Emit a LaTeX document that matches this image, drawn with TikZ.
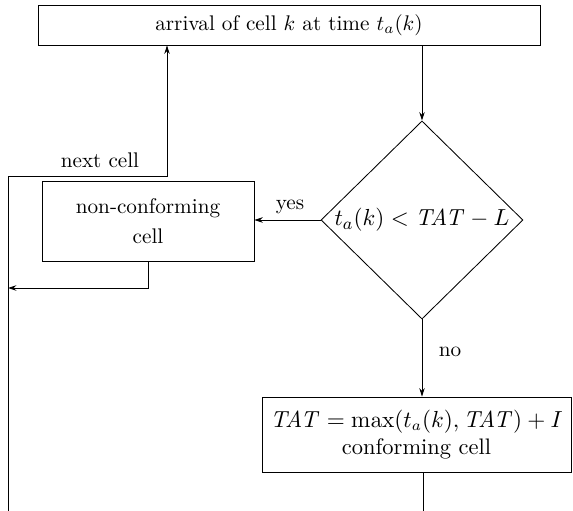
\documentclass[tikz,border=0pt]{standalone}
\usetikzlibrary{shapes.geometric,arrows.meta}
\begin{document}
\begin{tikzpicture}[x=0.472pt,y=-0.472pt, line width=0.4pt,
  box/.style={draw, rectangle, align=center, inner sep=0pt},
  dec/.style={draw, diamond, inner sep=0pt, align=center},
  conn/.style={-{Stealth[length=4pt,width=2.6pt]}},
  lbl/.style={inner sep=1pt}]
\useasboundingbox (0,0) rectangle (573,511);
\node[box, minimum width=236.9pt, minimum height=18.9pt] (top) at (289,25) {arrival of cell $k$ at time $t_a(k)$};
\node[dec, minimum width=95.3pt, minimum height=91.6pt, font=\fontsize{11.2pt}{13pt}\selectfont] (dia) at (422,220) {$t_a(k) < \mathit{TAT} - L$};
\node[box, minimum width=100pt, minimum height=37.8pt, text width=90pt] (nc) at (148,221) {non-conforming\\[2pt]cell};
\node[box, minimum width=145.8pt, minimum height=35.4pt, font=\fontsize{10.6pt}{13pt}\selectfont] (bot) at (416.5,434.5) {$\mathit{TAT} = \max(t_a(k), \mathit{TAT}) + I$\\conforming cell};
\coordinate (lb) at (8,511);
\coordinate (lt) at (8,176);
\coordinate (nx) at (167,176);
\coordinate (j) at (8,288);
\coordinate (be) at (423,511);
\draw[conn] (dia.north |- top.south) -- (dia.north);
\draw[conn] (dia.west) -- (dia.west -| nc.east);
\node[lbl] (yes) at (290,207) {yes};
\draw[conn] (nc.south) |- (j);
\draw[conn] (lb) -- (lt) -- (nx) -- (nx |- top.south);
\node[lbl] (next) at (100,160) {next cell};
\draw[conn] (dia.south) -- (dia.south |- bot.north);
\node[lbl] (no) at (450,352) {no};
\draw (be |- bot.south) -- (be);
\end{tikzpicture}
\end{document}
